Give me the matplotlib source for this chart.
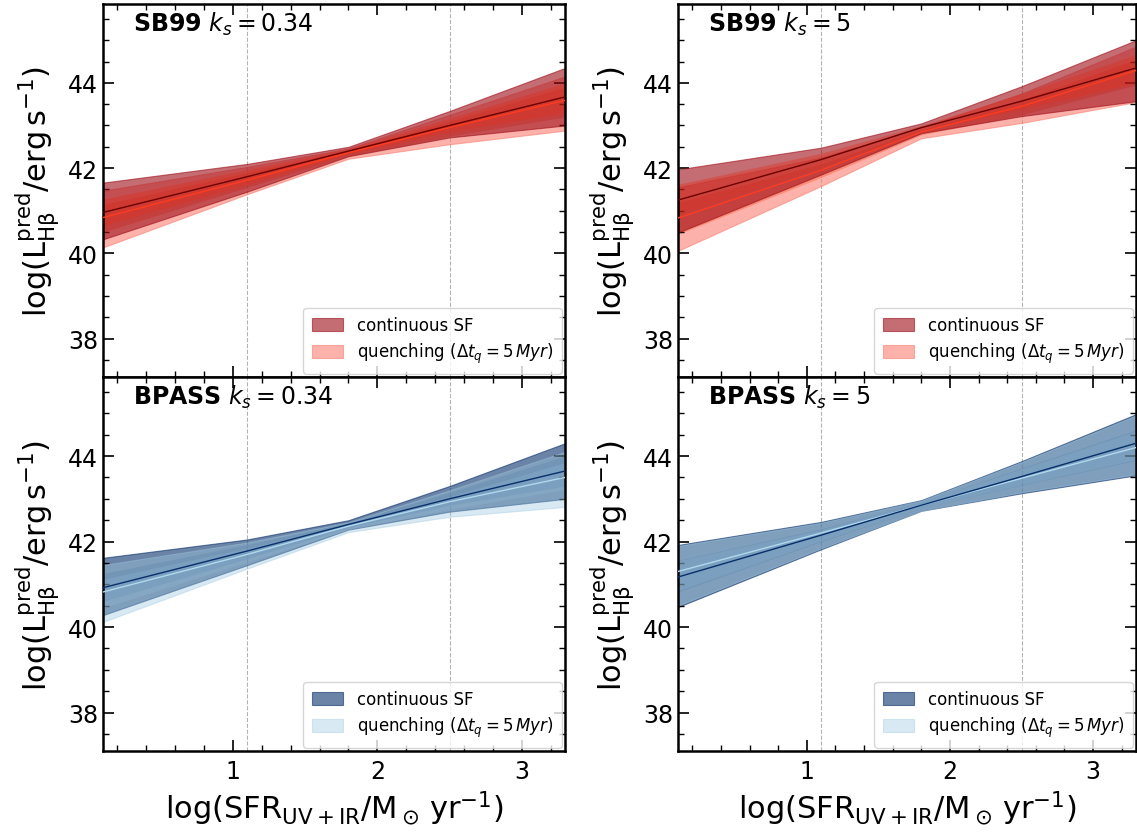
import matplotlib
matplotlib.use("Agg")
import matplotlib.pyplot as plt

# x nodes (log SFR)
x_nodes = [0.1, 1.1, 1.8, 2.5, 3.3]

# ---------------- SB99 k_s = 0.34 ----------------
sb034_cont_med = [40.96, 41.80, 42.40, 43.00, 43.67]
sb034_cont_lo1 = [40.65, 41.62, 42.33, 42.85, 43.30]
sb034_cont_hi1 = [41.27, 41.97, 42.46, 43.17, 44.00]
sb034_cont_lo2 = [40.33, 41.45, 42.28, 42.72, 43.00]
sb034_cont_hi2 = [41.66, 42.10, 42.50, 43.34, 44.35]
sb034_q_med = [40.84, 41.72, 42.36, 42.95, 43.59]
sb034_q_lo1 = [40.50, 41.55, 42.28, 42.75, 43.20]
sb034_q_hi1 = [41.15, 41.90, 42.42, 43.10, 43.90]
sb034_q_lo2 = [40.14, 41.39, 42.22, 42.56, 42.88]
sb034_q_hi2 = [41.47, 42.03, 42.46, 43.25, 44.15]

# ---------------- SB99 k_s = 5 ----------------
sb5_cont_med = [41.25, 42.20, 42.95, 43.57, 44.35]
sb5_cont_lo1 = [40.90, 42.02, 42.88, 43.38, 44.00]
sb5_cont_hi1 = [41.62, 42.35, 43.00, 43.75, 44.66]
sb5_cont_lo2 = [40.49, 41.85, 42.82, 43.22, 43.57]
sb5_cont_hi2 = [41.97, 42.48, 43.05, 43.92, 45.00]
sb5_q_med = [40.83, 41.95, 42.85, 43.45, 44.29]
sb5_q_lo1 = [40.45, 41.78, 42.78, 43.25, 43.95]
sb5_q_hi1 = [41.20, 42.10, 42.90, 43.60, 44.55]
sb5_q_lo2 = [40.06, 41.58, 42.70, 43.06, 43.55]
sb5_q_hi2 = [41.55, 42.25, 42.95, 43.75, 44.85]

# ---------------- BPASS k_s = 0.34 ----------------
bp034_cont_med = [40.92, 41.78, 42.40, 43.00, 43.65]
bp034_cont_lo1 = [40.60, 41.60, 42.33, 42.85, 43.30]
bp034_cont_hi1 = [41.25, 41.93, 42.45, 43.15, 44.00]
bp034_cont_lo2 = [40.28, 41.45, 42.28, 42.70, 43.00]
bp034_cont_hi2 = [41.62, 42.05, 42.50, 43.30, 44.30]
bp034_q_med = [40.82, 41.70, 42.36, 42.93, 43.50]
bp034_q_lo1 = [40.45, 41.52, 42.28, 42.75, 43.22]
bp034_q_hi1 = [41.12, 41.85, 42.40, 43.05, 43.85]
bp034_q_lo2 = [40.12, 41.37, 42.22, 42.58, 42.81]
bp034_q_hi2 = [41.45, 41.98, 42.45, 43.20, 44.10]

# ---------------- BPASS k_s = 5 ----------------
bp5_cont_med = [41.17, 42.15, 42.85, 43.52, 44.30]
bp5_cont_lo1 = [40.82, 42.00, 42.78, 43.32, 43.90]
bp5_cont_hi1 = [41.56, 42.30, 42.92, 43.72, 44.61]
bp5_cont_lo2 = [40.47, 41.82, 42.72, 43.13, 43.55]
bp5_cont_hi2 = [41.92, 42.46, 42.97, 43.88, 44.98]
bp5_q_med = [41.30, 42.20, 42.85, 43.48, 44.20]
bp5_q_lo1 = [40.85, 42.02, 42.78, 43.33, 43.92]
bp5_q_hi1 = [41.55, 42.28, 42.92, 43.70, 44.58]
bp5_q_lo2 = [40.50, 41.84, 42.72, 43.15, 43.57]
bp5_q_hi2 = [41.90, 42.44, 42.96, 43.86, 44.95]

panel_titles = [r"$\mathbf{SB99}$ $k_s = 0.34$", r"$\mathbf{SB99}$ $k_s = 5$",
                r"$\mathbf{BPASS}$ $k_s = 0.34$", r"$\mathbf{BPASS}$ $k_s = 5$"]
vlines_x = [1.1, 2.5]
x_ticks = [1, 2, 3]
y_ticks = [38, 40, 42, 44]

panels = [
    dict(cont=(sb034_cont_med, sb034_cont_lo1, sb034_cont_hi1, sb034_cont_lo2, sb034_cont_hi2),
         q=(sb034_q_med, sb034_q_lo1, sb034_q_hi1, sb034_q_lo2, sb034_q_hi2), scheme="red"),
    dict(cont=(sb5_cont_med, sb5_cont_lo1, sb5_cont_hi1, sb5_cont_lo2, sb5_cont_hi2),
         q=(sb5_q_med, sb5_q_lo1, sb5_q_hi1, sb5_q_lo2, sb5_q_hi2), scheme="red"),
    dict(cont=(bp034_cont_med, bp034_cont_lo1, bp034_cont_hi1, bp034_cont_lo2, bp034_cont_hi2),
         q=(bp034_q_med, bp034_q_lo1, bp034_q_hi1, bp034_q_lo2, bp034_q_hi2), scheme="blue"),
    dict(cont=(bp5_cont_med, bp5_cont_lo1, bp5_cont_hi1, bp5_cont_lo2, bp5_cont_hi2),
         q=(bp5_q_med, bp5_q_lo1, bp5_q_hi1, bp5_q_lo2, bp5_q_hi2), scheme="blue"),
]

styles = {
    "red": dict(cont="#9e0d17", cont_a=0.6, cont_in="#e0301e", cont_in_a=0.4,
                q="salmon", q_a=0.6, q_in="#fb6a4a", q_in_a=0.5,
                cont_line="#6b0000", q_line="#ff3b1f", q_first=True),
    "blue": dict(cont="#08306b", cont_a=0.6, cont_in="#08306b", cont_in_a=0.2,
                 q="#9ecae1", q_a=0.4, q_in="#9ecae1", q_in_a=0.2,
                 cont_line="#08306b", q_line="#b0d8ee", q_first=False),
}

fig = plt.figure(figsize=(11.37, 8.37), dpi=100)
W, H = 1137.0, 837.0
col_lr = [(103, 565), (678, 1136)]
row_tb = [(5, 378), (378, 752)]

for i, p in enumerate(panels):
    r, c = divmod(i, 2)
    x0, x1 = col_lr[c]
    t0, t1 = row_tb[r]
    ax = fig.add_axes([x0 / W, 1 - t1 / H, (x1 - x0) / W, (t1 - t0) / H])
    st = styles[p["scheme"]]
    cmed, clo1, chi1, clo2, chi2 = p["cont"]
    qmed, qlo1, qhi1, qlo2, qhi2 = p["q"]

    def draw_q(z):
        hq = ax.fill_between(x_nodes, qlo2, qhi2, color=st["q"], alpha=st["q_a"], lw=0.8, zorder=z)
        ax.fill_between(x_nodes, qlo1, qhi1, color=st["q_in"], alpha=st["q_in_a"], lw=0, zorder=z)
        return hq

    def draw_c(z):
        hc = ax.fill_between(x_nodes, clo2, chi2, color=st["cont"], alpha=st["cont_a"], lw=0.8, zorder=z)
        ax.fill_between(x_nodes, clo1, chi1, color=st["cont_in"], alpha=st["cont_in_a"], lw=0, zorder=z)
        return hc

    if st["q_first"]:
        hq = draw_q(1)
        hc = draw_c(2)
    else:
        hc = draw_c(1)
        hq = draw_q(2)
    ax.plot(x_nodes, qmed, color=st["q_line"], lw=1.0, zorder=3)
    ax.plot(x_nodes, cmed, color=st["cont_line"], lw=1.0, zorder=4)

    for xv in vlines_x:
        ax.axvline(xv, color="gray", ls="--", lw=0.8, alpha=0.6, zorder=0)

    ax.set_xlim(0.1, 3.3)
    ax.set_ylim(37.1, 45.85)
    ax.set_xticks(x_ticks)
    ax.set_yticks(y_ticks)
    ax.xaxis.set_minor_locator(matplotlib.ticker.MultipleLocator(0.2))
    ax.yaxis.set_minor_locator(matplotlib.ticker.MultipleLocator(0.5))
    ax.tick_params(which="both", direction="in", top=True, right=True, labelsize=17)
    ax.tick_params(which="major", length=8, width=1.2)
    ax.tick_params(which="minor", length=4, width=1.0)
    ax.tick_params(axis="x", which="major", pad=6)
    for s in ax.spines.values():
        s.set_linewidth(1.8)
    if r == 0:
        ax.tick_params(labelbottom=False)
    else:
        ax.set_xlabel(r"$\mathrm{\log(SFR_{UV+IR}/M_\odot\,yr^{-1})}$", fontsize=22)
    ax.set_ylabel(r"$\mathrm{\log(L^{pred}_{H\beta}/erg\,s^{-1})}$", fontsize=22)

    ax.text(0.065, 0.985, panel_titles[i], transform=ax.transAxes, va="top", ha="left",
            fontsize=17)

    ax.legend([hc, hq], ["continuous SF", r"quenching ($\Delta t_q = 5\,Myr$)"],
              loc="lower right", fontsize=12, handlelength=1.9, handleheight=0.8,
              borderpad=0.5, labelspacing=0.4, borderaxespad=0.2, handletextpad=0.8)

fig.savefig("out.png", dpi=100)
